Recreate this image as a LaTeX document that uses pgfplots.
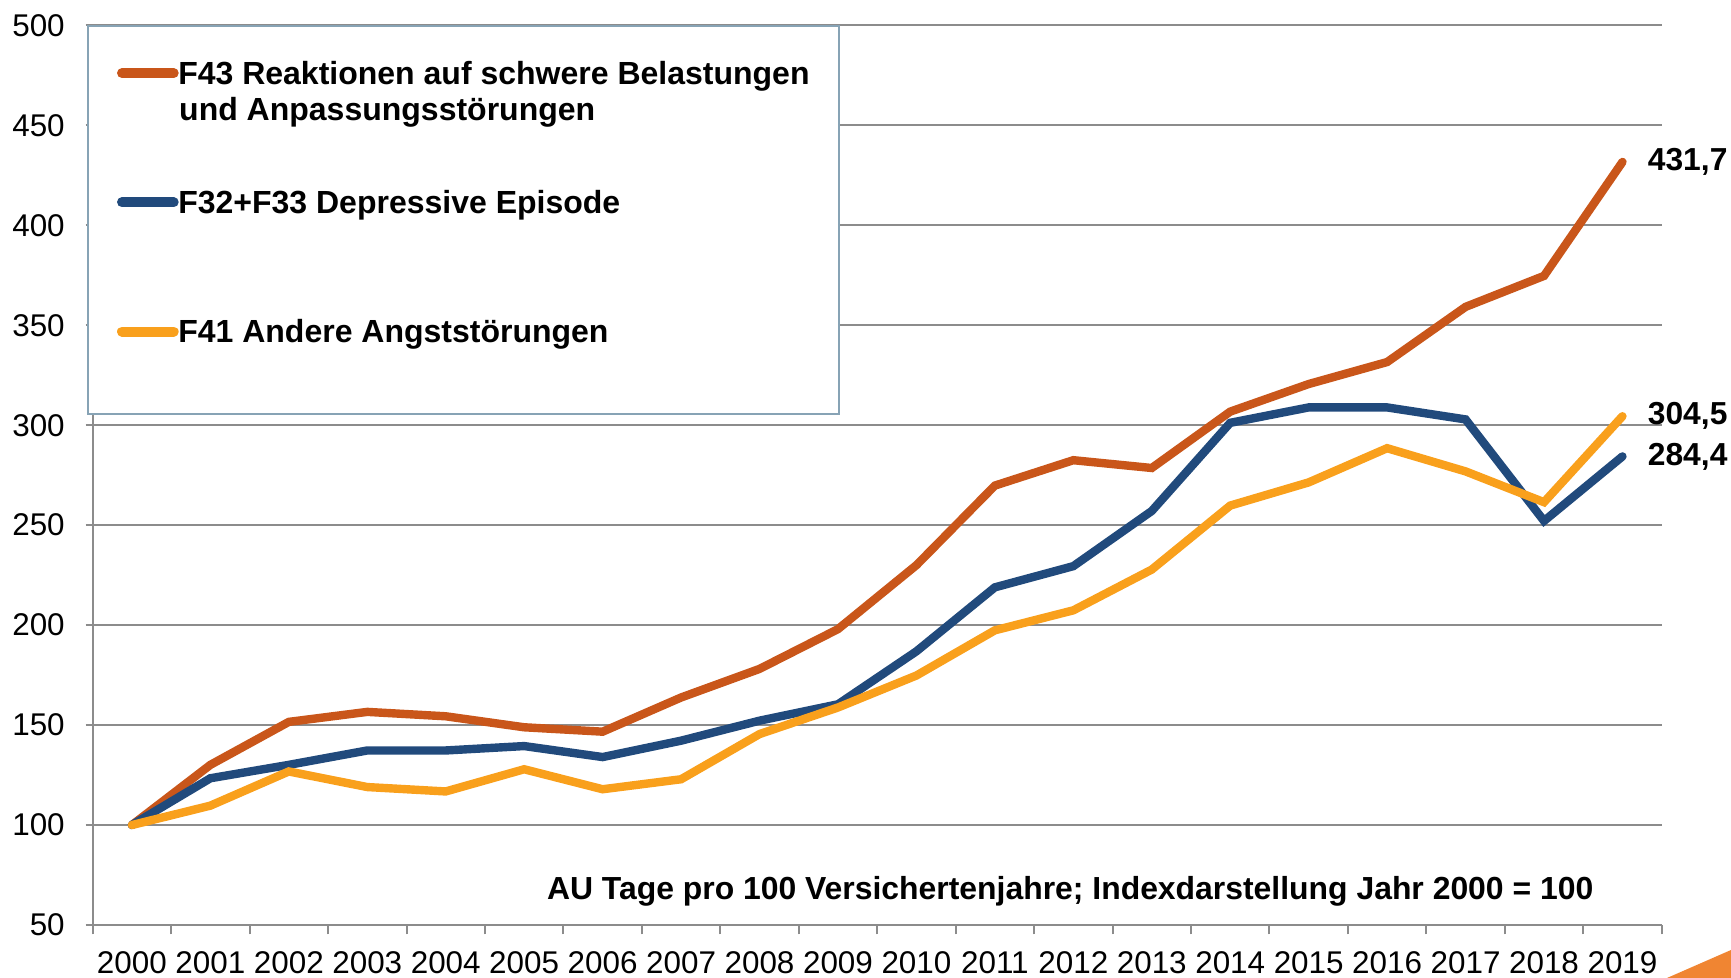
\documentclass[border=0pt]{standalone}
\usepackage{fontspec}
\setmainfont{Liberation Sans}
\usepackage{pgfplots}
\usepackage{pgfplotstable}
\pgfplotsset{compat=1.18}
\definecolor{cF43}{HTML}{C9561A}
\definecolor{cF32}{HTML}{214A7C}
\definecolor{cF41}{HTML}{F9A01C}
\definecolor{gridc}{HTML}{8C8C8C}
\definecolor{legc}{HTML}{87A3B5}
\definecolor{corner}{HTML}{F08532}
\newcommand{\legline}[1]{\tikz[baseline=0pt]{\path (0pt,0pt); \draw[#1, line width=5pt, line cap=round] (0pt,5.73pt) -- (25.85pt,5.73pt);}}
\pgfplotstableread{
x f43 f32 f41
0 100 100 100
1 130.1 123.4 109.7
2 151.6 130.1 126.8
3 156.6 137.3 119.0
4 154.4 137.3 116.8
5 148.9 139.5 127.9
6 146.7 134.0 117.9
7 163.8 142.2 122.9
8 178.1 152.2 145.5
9 198.0 160.4 158.8
10 230.0 186.9 174.8
11 269.8 218.9 197.4
12 282.5 229.5 207.4
13 278.6 257.1 227.8
14 306.8 301.2 259.8
15 320.6 308.9 271.4
16 331.6 308.9 288.5
17 359.2 302.9 276.9
18 374.7 252.1 261.5
19 431.7 284.4 304.5
}\datatable
\begin{document}
\begin{tikzpicture}
\begin{axis}[
  at={(0,0)}, anchor=south west,
  scale only axis, width=784.5pt, height=449.8pt,
  xmin=-0.5, xmax=19.5, ymin=50, ymax=500,
  clip=false,
  axis x line*=bottom, axis y line*=left,
  axis line style={gridc, line width=1pt},
  xtick={0,1,2,3,4,5,6,7,8,9,10,11,12,13,14,15,16,17,18,19},
  xticklabels={2000,2001,2002,2003,2004,2005,2006,2007,2008,2009,2010,2011,2012,2013,2014,2015,2016,2017,2018,2019},
  minor xtick={-0.5,0.5,1.5,2.5,3.5,4.5,5.5,6.5,7.5,8.5,9.5,10.5,11.5,12.5,13.5,14.5,15.5,16.5,17.5,18.5,19.5},
  ytick={50,100,150,200,250,300,350,400,450,500},
  ymajorgrids, grid style={gridc, line width=1pt},
  tick align=outside,
  major tick length=3.5pt, minor tick length=4.7pt,
  tick style={gridc, line width=1pt},
  major x tick style={draw=none},
  /pgf/number format/assume math mode=true,
  tick label style={font=\fontsize{15.7}{18}\selectfont},
  yticklabel style={inner sep=0pt, xshift=-10.3pt},
  xticklabel style={inner sep=0pt, yshift=-9.8pt},
]
\addplot[cF43, line width=4.2pt, line cap=round] table[x=x, y=f43] {\datatable};
\addplot[cF32, line width=4.2pt, line cap=round] table[x=x, y=f32] {\datatable};
\addplot[cF41, line width=4.2pt, line cap=round] table[x=x, y=f41] {\datatable};
\node[anchor=west, inner sep=0pt, xshift=12.5pt, font=\fontsize{15.9}{18}\selectfont\bfseries] at (axis cs:19,431.7) {431,7};
\node[anchor=west, inner sep=0pt, xshift=12.5pt, font=\fontsize{15.9}{18}\selectfont\bfseries] at (axis cs:19,304.5) {304,5};
\node[anchor=west, inner sep=0pt, xshift=12.5pt, font=\fontsize{15.9}{18}\selectfont\bfseries] at (axis cs:19,284.4) {284,4};
\node[inner sep=0pt, font=\fontsize{15.95}{18}\selectfont\bfseries] at (rel axis cs:0.623,0.037) {AU Tage pro 100 Versichertenjahre; Indexdarstellung Jahr 2000 = 100};
\coordinate (legpos) at (rel axis cs:-0.00344,1);
\end{axis}
\node[draw=legc, line width=1pt, fill=white, anchor=north west, inner xsep=14.35pt, inner ysep=0pt,
  font=\fontsize{16}{18.2}\selectfont\bfseries] at (legpos) {\vbox{\baselineskip=18.2pt \lineskiplimit=-50pt
  \kern17.5pt
  \hbox to 346.65pt{\legline{cF43}\kern-0.2pt F43 Reaktionen auf schwere Belastungen\hss}
  \hbox to 346.65pt{\kern31.1pt und Anpassungsstörungen\hfil}
  \kern28.2pt
  \hbox to 346.65pt{\legline{cF32}\kern-0.2pt F32+F33 Depressive Episode\hfil}
  \kern46.4pt
  \hbox to 346.65pt{\legline{cF41}\kern-0.2pt F41 Andere Angststörungen\hfil}
  \kern32.35pt}};
\fill[corner] (787.15pt,-26.5pt) -- (819.15pt,-12.5pt) -- (819.15pt,-26.5pt) -- cycle;
\pgfresetboundingbox
\path[use as bounding box] (-46.35pt,-26.5pt) rectangle (819.15pt,462.5pt);
\end{tikzpicture}
\end{document}
